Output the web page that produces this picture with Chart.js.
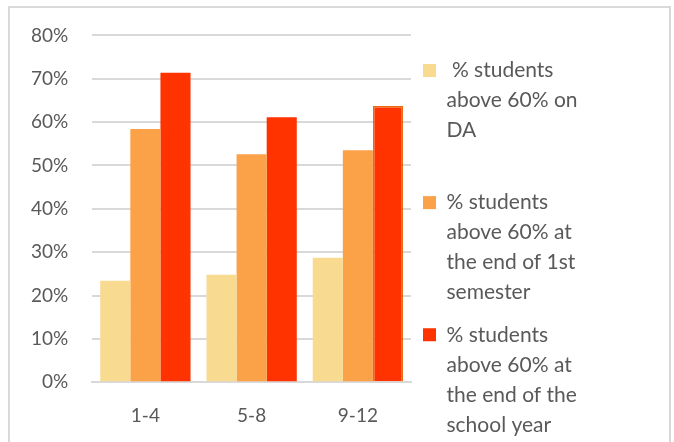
<!DOCTYPE html>
<html>
<head>
<meta charset="utf-8">
<script src="https://cdn.jsdelivr.net/npm/chart.js@4"></script>
<style>
  html, body { margin: 0; padding: 0; background: #fff; }
  #wrap { width: 674px; height: 442px; }
</style>
</head>
<body>
<div id="wrap"><canvas id="myChart" width="674" height="442"></canvas></div>
<script>
const grades = ['1-4', '5-8', '9-12'];
const onDA = [23.4, 24.8, 28.7];
const endSemester1 = [58.4, 52.6, 53.5];
const endYear = [71.4, 61.1, 63.7];
const yTicks = [0, 10, 20, 30, 40, 50, 60, 70, 80];

const labelDA = [' % students', 'above 60% on', 'DA', ''];
const labelSem = ['% students', 'above 60% at', 'the end of 1st', 'semester'];
const labelYear = ['% students', 'above 60% at', 'the end of the', 'school year'];

const LEGEND_WIDTH = 263;

const ctx = document.getElementById('myChart').getContext('2d');

// light gray frame like the office chart box
const frame = {
  id: 'frame',
  beforeDraw(chart) {
    const c = chart.ctx;
    c.save();
    c.fillStyle = '#fff';
    c.fillRect(0, 0, chart.width, chart.height);
    c.strokeStyle = '#d9d9d9';
    c.lineWidth = 2;
    c.beginPath();
    c.moveTo(9, chart.height);
    c.lineTo(9, 7);
    c.lineTo(670, 7);
    c.lineTo(670, chart.height);
    c.stroke();
    c.restore();
  }
};

// the layout caps a side legend at a quarter of the width, widen it
const wideLegend = {
  id: 'wideLegend',
  beforeLayout(chart) {
    const lg = chart.legend;
    if (lg && !lg._wide) {
      const origFit = lg.fit.bind(lg);
      lg.fit = function() {
        origFit();
        this.width = LEGEND_WIDTH;
      };
      lg._wide = true;
    }
  }
};

const myChart = new Chart(ctx, {
  type: 'bar',
  data: {
    labels: grades,
    datasets: [{
      label: labelDA,
      data: onDA,
      backgroundColor: '#f8db91'
    }, {
      label: labelSem,
      data: endSemester1,
      backgroundColor: '#fba148'
    }, {
      label: labelYear,
      data: endYear,
      backgroundColor: '#ff3300',
      borderColor: ['#ff3300', '#ff3300', '#ee6a10'],
      borderWidth: [0, 0, 1.5]
    }]
  },
  plugins: [frame, wideLegend],
  options: {
    responsive: false,
    animation: false,
    layout: { padding: { top: 26, left: 7, right: 0, bottom: 1 } },
    datasets: { bar: { categoryPercentage: 0.85, barPercentage: 1 } },
    plugins: {
      tooltip: { enabled: false },
      legend: {
        position: 'right',
        align: 'start',
        title: { display: true, text: ' ', padding: 5, font: { size: 10 } },
        labels: {
          boxWidth: 13,
          boxHeight: 13,
          padding: 12,
          color: '#595959',
          font: { family: 'Lato', size: 21, lineHeight: 1.43 }
        }
      }
    },
    scales: {
      x: {
        grid: { display: false },
        border: { color: '#d9d9d9', width: 2 },
        ticks: { color: '#595959', padding: 14, font: { family: 'Lato', size: 19 } }
      },
      y: {
        min: 0,
        max: 80,
        afterBuildTicks(axis) { axis.ticks = yTicks.map(v => ({ value: v })); },
        border: { display: false },
        grid: { color: '#d9d9d9', lineWidth: 2, drawTicks: false },
        ticks: {
          color: '#595959',
          padding: 24,
          font: { family: 'Lato', size: 19 },
          callback: v => v + '%'
        }
      }
    }
  }
});
</script>
</body>
</html>
